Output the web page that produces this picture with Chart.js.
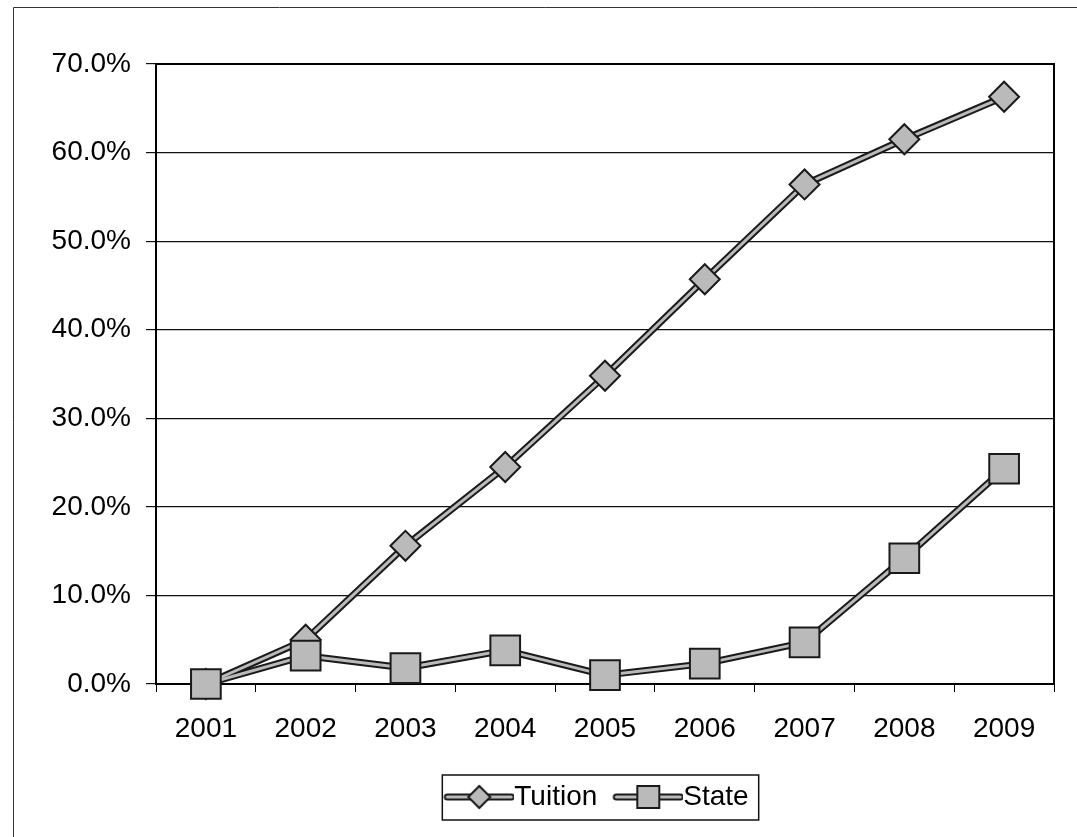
<!DOCTYPE html>
<html>
<head>
<meta charset="utf-8">
<script src="https://cdn.jsdelivr.net/npm/chart.js@4.4.1/dist/chart.umd.min.js"></script>
<style>
  html, body { margin: 0; padding: 0; background: #fff; }
  #wrap { width: 1077px; height: 837px; position: relative; }
</style>
</head>
<body>
<div id="wrap"><canvas id="chart" width="1077" height="837"></canvas></div>
<script>
// values (percent)
const years = ['2001', '2002', '2003', '2004', '2005', '2006', '2007', '2008', '2009'];
const tuition = [0, 5.0, 15.6, 24.5, 34.8, 45.7, 56.4, 61.5, 66.3];
const state = [0, 3.2, 1.8, 3.8, 1.0, 2.3, 4.7, 14.2, 24.3];
const yMin = 0, yMax = 70, yStep = 10;

const FONT = "'Liberation Sans', Arial, sans-serif";
const edge = '#1a1a1a';
const fill = '#bababa';

Chart.defaults.font.family = FONT;
Chart.defaults.font.size = 28;
Chart.defaults.color = '#000';

// little line + marker sample for the legend
function legendIcon(kind) {
    const c = document.createElement('canvas');
    c.width = 84; c.height = 28;
    const g = c.getContext('2d');
    g.lineCap = 'round';
    g.strokeStyle = edge; g.lineWidth = 7;
    g.beginPath(); g.moveTo(17, 14); g.lineTo(81, 14); g.stroke();
    g.strokeStyle = fill; g.lineWidth = 3;
    g.beginPath(); g.moveTo(17, 14); g.lineTo(81, 14); g.stroke();
    g.fillStyle = fill; g.strokeStyle = edge; g.lineWidth = 2;
    const cx = 49, cy = 14;
    g.beginPath();
    if (kind === 'diamond') {
        g.moveTo(cx - 11, cy); g.lineTo(cx, cy - 11); g.lineTo(cx + 11, cy); g.lineTo(cx, cy + 11); g.closePath();
    } else {
        g.rect(cx - 11, cy - 11, 22, 22);
    }
    g.fill(); g.stroke();
    return c;
}
const icons = [legendIcon('diamond'), legendIcon('square')];

const frame = {
    id: 'frame',
    afterUpdate(chart) {
        // center the legend under the plot area, like Excel does
        const lg = chart.legend;
        const dx = 69;
        lg.left += dx; lg.right += dx;
        (lg.legendHitBoxes || []).forEach(h => { h.left += dx; });
    },
    beforeDatasetsDraw(chart) {
        const {ctx, chartArea: a} = chart;
        ctx.save();
        ctx.strokeStyle = '#000';
        ctx.lineWidth = 2;
        ctx.strokeRect(a.left, a.top, a.right - a.left, a.bottom - a.top);
        ctx.restore();
    },
    afterDraw(chart) {
        const ctx = chart.ctx;
        ctx.save();
        // legend box
        const hb = chart.legend.legendHitBoxes;
        if (hb && hb.length) {
            const last = hb[hb.length - 1];
            const l = hb[0].left - 2, t = hb[0].top - 8;
            const r = last.left + last.width + 10, b = hb[0].top + hb[0].height + 9;
            ctx.strokeStyle = '#111';
            ctx.lineWidth = 1.5;
            ctx.strokeRect(l, t, r - l, b - t);
        }
        // outer frame (only left and top show in the picture)
        ctx.strokeStyle = '#333';
        ctx.lineWidth = 1;
        ctx.beginPath();
        ctx.moveTo(13.5, 837); ctx.lineTo(13.5, 7.5); ctx.lineTo(1077, 7.5);
        ctx.stroke();
        ctx.restore();
    }
};

const lineBase = {
    tension: 0,
    borderJoinStyle: 'round',
    borderCapStyle: 'round',
    clip: false,
    pointHoverRadius: 0
};

new Chart(document.getElementById('chart'), {
    type: 'line',
    data: {
        labels: years,
        datasets: [
            Object.assign({}, lineBase, {
                label: 'Tuition', data: tuition, order: 1,
                borderColor: fill, borderWidth: 3,
                pointStyle: 'rectRot', pointRadius: 15,
                pointBackgroundColor: fill, pointBorderColor: edge, pointBorderWidth: 2
            }),
            Object.assign({}, lineBase, {
                label: 'State', data: state, order: 0,
                borderColor: fill, borderWidth: 3,
                pointStyle: 'rect', pointRadius: 21,
                pointBackgroundColor: fill, pointBorderColor: edge, pointBorderWidth: 2
            }),
            Object.assign({}, lineBase, {
                label: '_tuitionEdge', data: tuition, order: 3,
                borderColor: edge, borderWidth: 7, pointRadius: 0
            }),
            Object.assign({}, lineBase, {
                label: '_stateEdge', data: state, order: 2,
                borderColor: edge, borderWidth: 7, pointRadius: 0
            })
        ]
    },
    options: {
        responsive: false,
        animation: false,
        events: [],
        layout: {padding: {left: 0, right: 22, top: 64, bottom: 16}},
        scales: {
            x: {
                offset: true,
                grid: {display: true, offset: true, drawOnChartArea: false, drawTicks: true, tickLength: 8, color: '#000', lineWidth: 1},
                border: {display: true, color: '#000', width: 2},
                ticks: {padding: 20, maxRotation: 0, autoSkip: false},
                afterFit(s) { s.height = 83; }
            },
            y: {
                min: yMin, max: yMax,
                grid: {color: '#111', lineWidth: 1.2, tickLength: 10, drawTicks: true},
                border: {display: true, color: '#000', width: 2},
                ticks: {
                    stepSize: yStep, padding: 15,
                    callback: v => v.toFixed(1) + '%'
                },
                afterFit(s) { s.width = 156; }
            }
        },
        plugins: {
            tooltip: {enabled: false},
            legend: {
                position: 'bottom',
                labels: {
                    usePointStyle: true,
                    pointStyleWidth: 56,
                    boxHeight: 28,
                    padding: 16,
                    font: {size: 28},
                    filter: item => !item.text.startsWith('_'),
                    sort: (a, b) => a.datasetIndex - b.datasetIndex,
                    generateLabels(chart) {
                        const items = Chart.defaults.plugins.legend.labels.generateLabels(chart);
                        items.forEach(it => {
                            if (icons[it.datasetIndex]) it.pointStyle = icons[it.datasetIndex];
                        });
                        return items;
                    }
                }
            }
        }
    },
    plugins: [frame]
});
</script>
</body>
</html>
